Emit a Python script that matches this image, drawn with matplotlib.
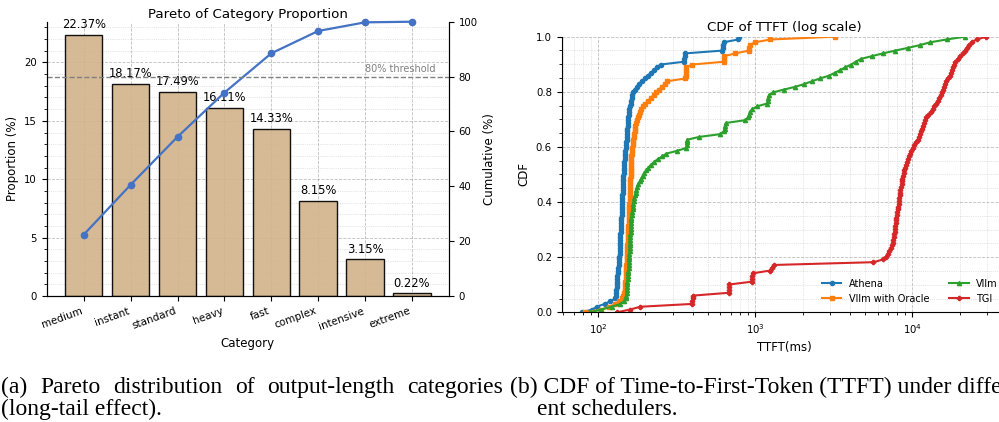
import numpy as np
import matplotlib
matplotlib.use("Agg")
import matplotlib.pyplot as plt
from matplotlib.ticker import AutoMinorLocator, NullLocator

# ---- data: pareto of categories ----
categories = ["medium", "instant", "standard", "heavy", "fast", "complex", "intensive", "extreme"]
proportion = [22.37, 18.17, 17.49, 16.11, 14.33, 8.15, 3.15, 0.22]

# ---- data: TTFT samples (ms), sorted ----
athena = [79, 92, 98, 110, 120, 129, 130, 130.5, 131, 131.5,
          132, 132, 132.5, 133, 133.5, 134, 134.5, 135, 135.5, 136,
          136.5, 137, 137, 137.5, 138, 138, 138.5, 139, 139, 139.5,
          140, 140.3, 140.5, 140.8, 141, 141.3, 141.5, 141.8, 142, 142.3,
          142.5, 142.8, 143, 143.3, 143.5, 143.8, 144, 144.3, 144.6, 145,
          145.3, 145.6, 146, 146.5, 147, 147.6, 148.2, 148.8, 149.4, 150,
          150.6, 151.2, 151.8, 152.4, 153, 153.5, 154, 154.5, 155, 155.5,
          156, 156.5, 157, 158, 159.5, 161, 162.5, 164, 164, 168,
          172, 176, 181, 190, 199, 208, 216, 227, 238, 250,
          352, 354, 355, 357, 615, 622, 625, 630, 780, 790]
vllm_oracle = [83, 105, 118, 129, 136, 142, 144, 146, 147.5, 148.5,
               149, 149.5, 150, 150.3, 150.6, 151, 151.3, 151.6, 152, 152.3,
               152.6, 153, 153.3, 153.6, 154, 154.3, 154.6, 155, 155.2, 155.5,
               155.8, 156, 156.3, 156.6, 156.9, 157.2, 157.5, 157.8, 158, 158.3,
               158.6, 158.9, 159.2, 159.4, 159.6, 159.8, 160, 160.3, 160.6, 161,
               161.3, 161.6, 162, 162.3, 162.6, 163, 163.3, 163.6, 164, 165,
               166, 167, 168, 169, 170, 171, 172, 173, 174, 177,
               180, 182, 185, 188, 193, 200, 208, 216, 226, 235,
               244, 254, 265, 276, 360, 361, 362, 363, 365, 398,
               632, 634, 636, 747, 910, 915, 920, 1000, 1250, 3220]
vllm = [89, 105, 122, 139, 146, 150, 151, 152, 152.5, 153,
        153.5, 154, 154.5, 155, 155.5, 156, 156.8, 157.2, 157.5, 157.8,
        158.2, 158.5, 158.8, 159.2, 159.5, 159.8, 160.2, 160.5, 160.8, 161.2,
        161.5, 161.8, 162.2, 162.5, 162.8, 163.7, 164.8, 166, 167, 168,
        169, 170, 172, 173.5, 175, 177, 180, 184, 188, 192,
        197, 203, 209, 217, 227, 240, 256, 272, 318, 364,
        366, 368, 370, 440, 600, 630, 638, 642, 650, 860,
        905, 915, 925, 960, 1030, 1190, 1200, 1210, 1225, 1300,
        1520, 1800, 2050, 2300, 2580, 2950, 3200, 3470, 3750, 4080,
        4350, 4700, 5500, 6500, 7760, 9400, 11200, 13000, 16500, 21600]
tgi = [132, 160, 186, 395, 398, 400, 402, 677, 680, 683,
       686, 953, 956, 960, 965, 1245, 1270, 1309, 5650, 6530,
       6800, 7000, 7150, 7280, 7380, 7480, 7570, 7620, 7660, 7710,
       7750, 7800, 7840, 7880, 7920, 7970, 8010, 8060, 8110, 8160,
       8210, 8250, 8290, 8340, 8400, 8460, 8530, 8590, 8650, 8710,
       8780, 8880, 8990, 9100, 9210, 9330, 9450, 9630, 9830, 10030,
       10260, 10520, 10780, 11000, 11150, 11300, 11460, 11650, 11850, 12050,
       12280, 12650, 13050, 13480, 13800, 14130, 14470, 14830, 15100, 15350,
       15600, 15850, 16080, 16400, 16800, 17250, 17550, 17850, 18100, 18400,
       18670, 19400, 20200, 20900, 21500, 22100, 22800, 23800, 25600, 29600]

series = [("Athena", athena, "o"), ("Vllm with Oracle", vllm_oracle, "s"),
          ("Vllm", vllm, "^"), ("TGI", tgi, "P")]

W, H = 999, 422
fig = plt.figure(figsize=(W / 100, H / 100), dpi=100)

# ---------------- left: pareto ----------------
ax = fig.add_axes([46.7 / W, (H - 296) / H, 402.3 / W, 274.3 / H])
ax2 = ax.twinx()

x = np.arange(len(categories))
ax.bar(x, proportion, color="tan", edgecolor="black", alpha=0.92, linewidth=1, zorder=2)
for xi, v in zip(x, proportion):
    ax.text(xi, v + 0.3, f"{v:.2f}%", ha="center", va="bottom", fontsize=8.3)
ax.set_xticks(x)
ax.set_xticklabels(categories, rotation=20, ha="right", fontsize=7.5)
ax.set_ylabel("Proportion (%)", fontsize=8.5)
ax.set_xlabel("Category", fontsize=8.5)
ax.set_title("Pareto of Category Proportion", fontsize=9.6, pad=3)
ax.yaxis.set_minor_locator(AutoMinorLocator())
ax.xaxis.set_minor_locator(NullLocator())
ax.tick_params(axis="y", labelsize=7.3)
ax.grid(which="major", linestyle="--", linewidth=0.6, color="gray", alpha=0.5)
ax.grid(which="minor", linestyle=":", linewidth=0.5, color="gray", alpha=0.4)
ax.set_axisbelow(True)

cum = np.cumsum(proportion)
ax2.plot(x, cum, color="#4472C4", marker="o", markersize=4.5, linewidth=1.6, clip_on=False)
ax2.axhline(80, color="gray", linestyle="--", linewidth=1)
ax2.text(len(categories) - 0.5, 81, "80% threshold", ha="right", va="bottom",
         fontsize=7, color="gray")
ax2.set_ylim(0, 100)
ax2.set_ylabel("Cumulative (%)", fontsize=8.5)
ax2.tick_params(axis="y", labelsize=7.3)
for a in (ax, ax2):
    a.spines["top"].set_visible(False)

# ---------------- right: CDF ----------------
ax3 = fig.add_axes([561.7 / W, (H - 312.3) / H, 445 / W, 275.6 / H])
for name, vals, mk in series:
    v = np.sort(np.asarray(vals, dtype=float))
    y = np.arange(len(v)) / (len(v) - 1)
    ax3.plot(v, y, marker=mk, markersize=3, linewidth=1.5, label=name)
ax3.set_xscale("log")
ax3.set_ylim(0, 1)
ax3.set_title("CDF of TTFT (log scale)", fontsize=9.6, pad=4)
ax3.set_xlabel("TTFT(ms)", fontsize=8.5)
ax3.set_ylabel("CDF", fontsize=8.5)
ax3.tick_params(labelsize=7.3)
ax3.yaxis.set_minor_locator(AutoMinorLocator())
ax3.grid(which="major", linestyle="--", linewidth=0.6, color="gray", alpha=0.5)
ax3.grid(which="minor", linestyle=":", linewidth=0.5, color="gray", alpha=0.4)
ax3.spines["top"].set_visible(False)
ax3.spines["right"].set_visible(False)
ax3.legend(loc="lower right", ncol=2, fontsize=7, frameon=False)

# ---------------- captions ----------------
cap_font = dict(fontsize=17, family="Liberation Serif")
fig.canvas.draw()
renderer = fig.canvas.get_renderer()


def justify(words, x0, x1, ybase):
    texts = [fig.text(0, ybase, w, va="baseline", **cap_font) for w in words]
    widths = [t.get_window_extent(renderer).width for t in texts]
    gap = ((x1 - x0) - sum(widths)) / (len(words) - 1)
    xp = x0
    for t, w in zip(texts, widths):
        t.set_x(xp / W)
        xp += w + gap


justify(["(a)", "Pareto", "distribution", "of", "output-length", "categories"], 1, 503, 1 - 393 / H)
fig.text(1 / W, 1 - 415 / H, "(long-tail effect).", va="baseline", **cap_font)
fig.text(510 / W, 1 - 393 / H, "(b) CDF of Time-to-First-Token (TTFT) under differ-", va="baseline", **cap_font)
fig.text(537 / W, 1 - 415 / H, "ent schedulers.", va="baseline", **cap_font)

fig.savefig("out.png", dpi=100)
